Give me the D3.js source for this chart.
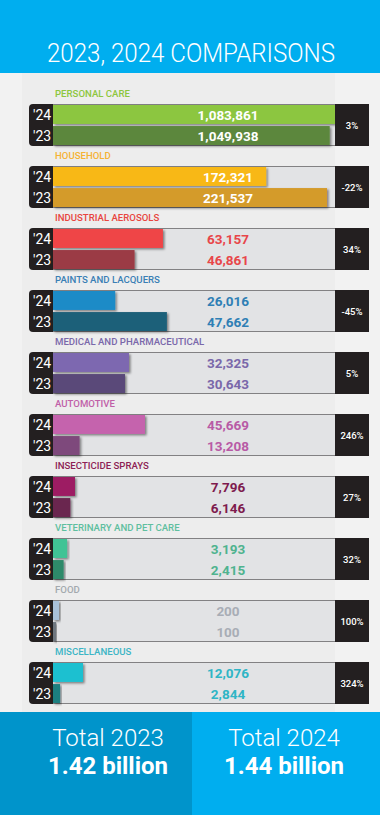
<!DOCTYPE html>
<html>
<head>
<meta charset="utf-8">
<script src="https://cdn.jsdelivr.net/npm/d3@7"></script>
<style>
  html,body{margin:0;padding:0;background:#f1f1f1;}
  svg{display:block;}
  text{font-family:Roboto,"Noto Sans",sans-serif;}
</style>
</head>
<body>
<svg id="chart" width="380" height="815"></svg>
<script>
const title = "2023, 2024 COMPARISONS";
const categories = ["PERSONAL CARE","HOUSEHOLD","INDUSTRIAL AEROSOLS","PAINTS AND LACQUERS","MEDICAL AND PHARMACEUTICAL","AUTOMOTIVE","INSECTICIDE SPRAYS","VETERINARY AND PET CARE","FOOD","MISCELLANEOUS"];
const values2024 = [1083861,172321,63157,26016,32325,45669,7796,3193,200,12076];
const values2023 = [1049938,221537,46861,47662,30643,13208,6146,2415,100,2844];
const changeLabels = ["3%","-22%","34%","-45%","5%","246%","27%","32%","100%","324%"];
// each panel in the original uses its own axis ceiling
const scaleMax = [1070000,228000,162000,118000,120000,140000,100000,64000,9400,113500];
const yearLabels = ["'24","'23"];
const totalLabels = ["Total 2023","Total 2024"];
const totalValues = ["1.42 billion","1.44 billion"];

const labelColors = ["#8dc63f","#f5b335","#e8463f","#3a7fb5","#7a68aa","#c060a8","#8e1f55","#5fbf9f","#a3a9ae","#3cb5c5"];
const color24 = ["#8cc63f","#f8b818","#ef4547","#1b8bc7","#7d67b0","#c563ad","#9d1c63","#3fc395","#a9c1d9","#1fc0d0"];
const color23 = ["#5b873c","#d49b2a","#9b3a45","#1f6079","#5a4a79","#7e4a7b","#6b2650","#2f8a6b","#6e767e","#1f7f80"];
const valueColors = ["#ffffff","#ffffff","#e8464a","#2f7fb5","#7a68aa","#b85aa5","#7e1b4e","#4fb38f","#a8adb5","#2fb5c5"];

const W = 380, H = 815;
const svg = d3.select("#chart");
const defs = svg.append("defs");
const f = defs.append("filter").attr("id","sh").attr("x","-10%").attr("y","-30%").attr("width","130%").attr("height","180%");
f.append("feDropShadow").attr("dx",1.6).attr("dy",1.4).attr("stdDeviation",0.9).attr("flood-color","#000").attr("flood-opacity",0.45);

// background
svg.append("rect").attr("x",0).attr("y",0).attr("width",W).attr("height",H).attr("fill","#f2f2f2");
svg.append("rect").attr("x",22).attr("y",73).attr("width",313).attr("height",639).attr("fill","#ededed");

// header
svg.append("rect").attr("x",0).attr("y",0).attr("width",W).attr("height",73).attr("fill","#00aeef");
svg.append("text").attr("x",191).attr("y",62).attr("text-anchor","middle")
  .attr("fill","#fff").attr("font-size",26).attr("font-weight",300)
  .attr("textLength",288).attr("lengthAdjust","spacingAndGlyphs").text(title);

const blockY = d3.scaleBand().domain(d3.range(categories.length)).range([104, 104 + 62*categories.length]).paddingInner(0);
const trackX0 = 53, trackX1 = 335;
const rowY = d3.scaleBand().domain([0,1]).range([1,41]).paddingInner(0.1);

categories.forEach((cat,i) => {
  const top = blockY(i);
  const g = svg.append("g").attr("transform",`translate(0,${top})`);
  g.append("text").attr("x",55).attr("y",-7).attr("fill",labelColors[i])
    .attr("font-size",9.6).attr("font-weight",500).text(cat);
  g.append("rect").attr("x",29).attr("y",0).attr("width",340).attr("height",42).attr("rx",4).attr("fill","#231f20");
  g.append("rect").attr("x",trackX0).attr("y",0.5).attr("width",trackX1-trackX0).attr("height",41).attr("fill","#e2e3e5");
  const x = d3.scaleLinear().domain([0, scaleMax[i]]).range([trackX0, trackX1]).clamp(true);
  const vals = [values2024[i], values2023[i]];
  const cols = [color24[i], color23[i]];
  vals.forEach((v,r) => {
    const y = rowY(r);
    g.append("rect").attr("x",trackX0).attr("y",y).attr("width",Math.max(2, x(v)-trackX0)).attr("height",rowY.bandwidth())
      .attr("fill",cols[r]).attr("filter","url(#sh)");
    g.append("text").attr("x",33).attr("y",y+15).attr("fill","#fff").attr("font-size",14).text(yearLabels[r]);
    g.append("text").attr("x",228).attr("y",y+14.5).attr("text-anchor","middle").attr("fill",valueColors[i])
      .attr("font-size",13.5).attr("font-weight",700).text(d3.format(",")(v));
  });
  // right dark cap redrawn over any overflow
  g.append("rect").attr("x",trackX1).attr("y",0).attr("width",34).attr("height",42).attr("fill","#231f20");
  g.append("path").attr("d",`M${trackX1+30},0 a4,4 0 0 1 4,4 v34 a4,4 0 0 1 -4,4 z`).attr("fill","#231f20");
  g.append("text").attr("x",352).attr("y",24.5).attr("text-anchor","middle").attr("fill","#fff")
    .attr("font-size",9.5).attr("font-weight",500).text(changeLabels[i]);
});

// footer
svg.append("rect").attr("x",0).attr("y",712).attr("width",192).attr("height",103).attr("fill","#0094cb");
svg.append("rect").attr("x",192).attr("y",712).attr("width",188).attr("height",103).attr("fill","#00aeef");
[108, 284].forEach((cx,k) => {
  svg.append("text").attr("x",cx).attr("y",746).attr("text-anchor","middle").attr("fill","#fff")
    .attr("font-size",24).attr("font-weight",300).text(totalLabels[k]);
  svg.append("text").attr("x",cx).attr("y",774).attr("text-anchor","middle").attr("fill","#fff")
    .attr("font-size",24).attr("font-weight",700).text(totalValues[k]);
});
</script>
</body>
</html>
